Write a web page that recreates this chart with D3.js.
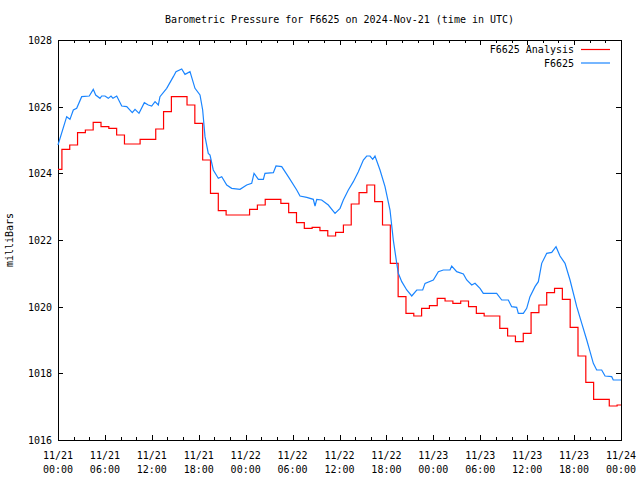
<!DOCTYPE html>
<html><head><meta charset="utf-8">
<script src="https://cdn.jsdelivr.net/npm/d3@7"></script>
<style>
body{margin:0;background:#fff}
svg text{font-family:"DejaVu Sans Mono","Liberation Mono",monospace;font-size:10px;fill:#000}
</style>
</head><body>
<svg id="chart" width="640" height="480"></svg>
<script>
// ---- data (hours since 2024-11-21 00:00 UTC) ----
const analysisHours = [0,1,2,3,4,5,6,7,8,9,10,11,12,13,14,15,16,17,18,19,20,21,22,23,24,25,26,27,28,29,30,31,32,33,34,35,36,37,38,39,40,41,42,43,44,45,46,47,48,49,50,51,52,53,54,55,56,57,58,59,60,61,62,63,64,65,66,67,68,69,70,71,72];
const analysisValues = [1024.12,1024.72,1024.85,1025.22,1025.3,1025.53,1025.4,1025.35,1025.15,1024.88,1024.88,1025.02,1025.02,1025.33,1025.85,1026.3,1026.3,1026.05,1025.5,1024.4,1023.4,1022.88,1022.75,1022.75,1022.75,1022.92,1023.05,1023.22,1023.22,1023.1,1022.82,1022.52,1022.35,1022.38,1022.28,1022.12,1022.23,1022.45,1023.08,1023.42,1023.65,1023.15,1022.45,1021.3,1020.3,1019.8,1019.72,1019.95,1020.03,1020.25,1020.17,1020.1,1020.17,1020.0,1019.8,1019.72,1019.72,1019.35,1019.12,1018.95,1019.2,1019.82,1020.05,1020.42,1020.55,1020.22,1019.38,1018.52,1017.73,1017.22,1017.22,1017.02,1017.05];

const obsHours = [0,1.11,1.53,1.96,2.39,3.03,4.0,4.51,4.82,5.37,5.59,6.01,6.43,6.78,7.03,7.51,8.15,8.79,9.5,9.85,10.36,11.04,11.55,11.98,12.41,12.83,13.04,13.9,14.75,15.09,15.82,16.24,16.88,17.52,18.16,18.5,18.8,19.22,19.44,19.86,20.5,20.94,21.58,22.21,23.28,24.13,24.77,25.07,25.62,26.26,26.47,27.54,27.88,28.61,29.45,30.53,30.95,31.81,32.65,32.87,33.09,33.72,34.57,35.43,36.07,36.49,37.13,37.77,38.41,39.05,39.48,39.9,40.25,40.54,41.18,41.82,42.46,42.88,43.32,43.52,43.96,44.6,45.24,45.88,46.64,46.94,48.0,48.64,49.28,50.13,50.35,50.99,51.84,52.27,52.91,53.33,53.97,54.39,56.1,56.75,57.59,58.02,58.66,58.87,59.51,59.94,60.36,61.0,61.43,61.86,62.5,63.14,63.69,64.2,64.84,65.48,66.34,66.98,67.62,68.04,68.46,68.89,69.53,69.96,70.81,71.01,72];
const obsValues = [1024.85,1025.7,1025.62,1025.9,1025.95,1026.3,1026.32,1026.52,1026.35,1026.25,1026.32,1026.32,1026.25,1026.32,1026.25,1026.32,1026.02,1026.0,1025.82,1025.92,1025.8,1026.12,1026.05,1026.02,1026.15,1026.05,1026.3,1026.55,1026.9,1027.05,1027.13,1026.97,1027.05,1026.55,1026.35,1025.9,1025.1,1024.6,1024.55,1024.1,1023.85,1023.9,1023.65,1023.55,1023.52,1023.65,1023.7,1024.0,1023.82,1023.82,1024.0,1024.02,1024.22,1024.2,1023.9,1023.5,1023.32,1023.28,1023.22,1023.02,1023.22,1023.2,1023.05,1022.8,1022.95,1023.2,1023.5,1023.75,1024.05,1024.4,1024.52,1024.52,1024.42,1024.52,1024.1,1023.6,1022.9,1022.0,1021.3,1021.0,1020.75,1020.5,1020.32,1020.5,1020.5,1020.7,1020.8,1021.05,1021.1,1021.1,1021.22,1021.05,1020.98,1020.8,1020.65,1020.7,1020.55,1020.4,1020.4,1020.2,1020.2,1020.0,1019.98,1019.8,1019.8,1019.95,1020.3,1020.6,1020.75,1021.3,1021.6,1021.63,1021.8,1021.52,1021.3,1020.8,1020.0,1019.5,1019.0,1018.65,1018.3,1018.1,1018.1,1017.92,1017.9,1017.8,1017.8];

const seriesNames = ["F6625 Analysis","F6625"];
const seriesColors = ["#ff0000","#1a85ff"];
const yTickValues = [1016,1018,1020,1022,1024,1026,1028];
const xMajorHours = [0,6,12,18,24,30,36,42,48,54,60,66,72];
const xMinorHours = [2,4,8,10,14,16,20,22,26,28,32,34,38,40,44,46,50,52,56,58,62,64,68,70];
const xTickDates = ["11/21","11/21","11/21","11/21","11/22","11/22","11/22","11/22","11/23","11/23","11/23","11/23","11/24"];
const xTickTimes = ["00:00","06:00","12:00","18:00","00:00","06:00","12:00","18:00","00:00","06:00","12:00","18:00","00:00"];
const titleText = "Barometric Pressure for F6625 on 2024-Nov-21 (time in UTC)";
const yLabelText = "milliBars";

// ---- layout ----
const L = 58, R = 621, T = 40, B = 440;
const svg = d3.select("#chart");
const x = d3.scaleLinear().domain([0,72]).range([L,R]);
const y = d3.scaleLinear().domain([1016,1028]).range([B,T]);

// axes (ticks inward, mirrored)
function styleAxis(g){ g.select(".domain").remove(); g.selectAll(".tick line").attr("stroke","#000").attr("shape-rendering","crispEdges"); }
svg.append("g").attr("transform",`translate(0,${B})`)
  .call(d3.axisBottom(x).tickValues(xMajorHours).tickSize(-5).tickFormat(""))
  .call(styleAxis);
svg.append("g").attr("transform",`translate(0,${B})`)
  .call(d3.axisBottom(x).tickValues(xMinorHours).tickSize(-3).tickFormat(""))
  .call(styleAxis);
svg.append("g").attr("transform",`translate(0,${T})`)
  .call(d3.axisTop(x).tickValues(xMajorHours).tickSize(-5).tickFormat(""))
  .call(styleAxis);
svg.append("g").attr("transform",`translate(0,${T})`)
  .call(d3.axisTop(x).tickValues(xMinorHours).tickSize(-3).tickFormat(""))
  .call(styleAxis);
const yl = svg.append("g").attr("transform",`translate(${L},0)`)
  .call(d3.axisLeft(y).tickValues(yTickValues).tickSize(-5).tickPadding(6).tickFormat(d3.format("d")))
  .call(styleAxis);
yl.selectAll(".tick text").attr("font-size",null).attr("font-family",null).attr("dy","0.35em");
svg.append("g").attr("transform",`translate(${R},0)`)
  .call(d3.axisRight(y).tickValues(yTickValues).tickSize(-5).tickFormat(""))
  .call(styleAxis);

// x tick labels (two lines)
const xl = svg.append("g");
xMajorHours.forEach((h,i)=>{
  const t = xl.append("text").attr("text-anchor","middle");
  t.append("tspan").attr("x",x(h)).attr("y",458.5).text(xTickDates[i]);
  t.append("tspan").attr("x",x(h)).attr("y",472.5).text(xTickTimes[i]);
});

// border
svg.append("rect").attr("x",L+0.5).attr("y",T+0.5).attr("width",R-L).attr("height",B-T)
  .attr("fill","none").attr("stroke","#000").attr("shape-rendering","crispEdges");

// series
const analysis = analysisHours.map((h,i)=>[h,analysisValues[i]]);
const obs = obsHours.map((h,i)=>[h,obsValues[i]]);
const stepLine = d3.line().x(d=>x(d[0])).y(d=>y(d[1])).curve(d3.curveStep);
const plainLine = d3.line().x(d=>x(d[0])).y(d=>y(d[1]));
svg.append("path").datum(analysis).attr("d",stepLine).attr("fill","none").attr("stroke",seriesColors[0]).attr("stroke-width",1.2);
svg.append("path").datum(obs).attr("d",plainLine).attr("fill","none").attr("stroke",seriesColors[1]).attr("stroke-width",1.2);

// title & y label
svg.append("text").attr("x",(L+R)/2).attr("y",22.5).attr("text-anchor","middle").text(titleText);
svg.append("text").attr("transform","translate(13,240) rotate(-90)").attr("text-anchor","middle").text(yLabelText);

// legend
seriesNames.forEach((n,i)=>{
  const yy = 49.5 + i*13.5;
  svg.append("text").attr("x",574).attr("y",yy+3.5).attr("text-anchor","end").text(n);
  svg.append("line").attr("x1",581).attr("x2",610).attr("y1",yy).attr("y2",yy)
    .attr("stroke",seriesColors[i]).attr("stroke-width",1.2);
});
</script>
</body></html>
